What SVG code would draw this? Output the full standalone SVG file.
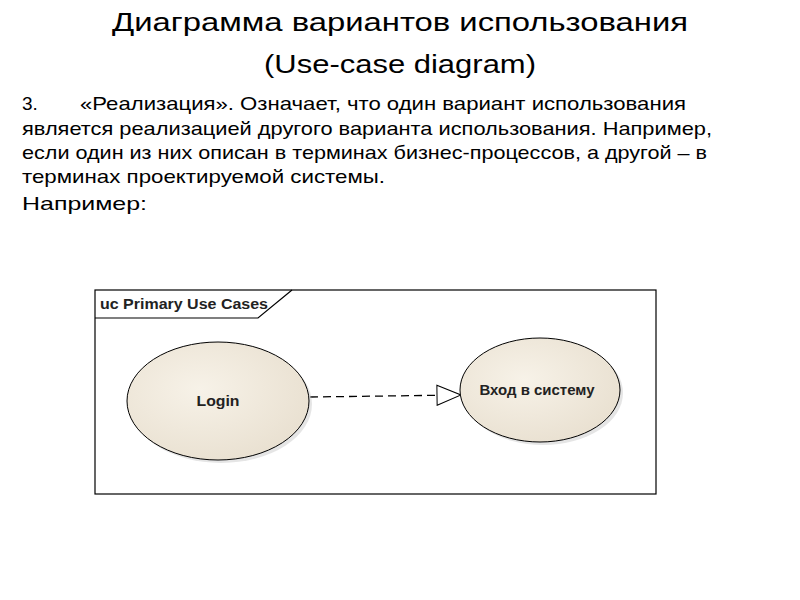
<svg xmlns="http://www.w3.org/2000/svg" width="800" height="600" viewBox="0 0 800 600">
<style>
.t{font-family:"Liberation Sans",Arial,sans-serif;fill:#000}
.ti{font-size:26px;text-anchor:middle}
.b{font-size:19px}
.uc{stroke:#000;stroke-width:1}
.lb{font-size:14px;font-weight:bold;fill:#222}
</style>
<defs>
<radialGradient id="g" cx="0.4" cy="0.4" r="0.7"><stop offset="0" stop-color="#f7f2e8"/><stop offset="1" stop-color="#e8dfcf"/></radialGradient>
<marker id="tri" markerWidth="26" markerHeight="22" refX="25" refY="11" orient="auto" markerUnits="userSpaceOnUse"><path d="M1,1 L25,11 L1,21 Z" fill="#fff" stroke="#000"/></marker>
</defs>
<rect width="800" height="600" fill="#fff"/>
<text class="t ti" x="400" y="31" textLength="576" lengthAdjust="spacingAndGlyphs">Диаграмма вариантов использования</text>
<text class="t ti" x="400" y="73" textLength="272" lengthAdjust="spacingAndGlyphs">(Use-case diagram)</text>
<text class="t b" x="22" y="110">3.</text>
<text class="t b" x="80" y="110" textLength="606" lengthAdjust="spacingAndGlyphs">«Реализация». Означает, что один вариант использования</text>
<text class="t b" x="22" y="135" textLength="690" lengthAdjust="spacingAndGlyphs">является реализацией другого варианта использования. Например,</text>
<text class="t b" x="22" y="159" textLength="685" lengthAdjust="spacingAndGlyphs">если один из них описан в терминах бизнес-процессов, а другой – в</text>
<text class="t b" x="22" y="183" textLength="363" lengthAdjust="spacingAndGlyphs">терминах проектируемой системы.</text>
<text class="t b" x="22" y="210" textLength="125" lengthAdjust="spacingAndGlyphs">Например:</text>
<g id="frame">
<rect x="95" y="290" width="561" height="204" fill="#fff" stroke="#000" stroke-width="1.2"/>
<path d="M95,318 H258 L292,290" fill="none" stroke="#000" stroke-width="1.2"/>
<text class="t lb" x="100" y="309" textLength="168" lengthAdjust="spacingAndGlyphs">uc Primary Use Cases</text>
</g>
<g id="connectors">
<line x1="310" y1="397" x2="461" y2="395" stroke="#000" stroke-width="1.3" stroke-dasharray="8,5" marker-end="url(#tri)"/>
</g>
<g id="login">
<ellipse cx="221" cy="404" rx="91" ry="59" fill="#ccc" opacity="0.5"/>
<ellipse class="uc" cx="218" cy="401" rx="91" ry="59" fill="url(#g)"/>
<text class="t lb" x="218" y="406" text-anchor="middle" textLength="43" lengthAdjust="spacingAndGlyphs">Login</text>
</g>
<g id="vhod">
<ellipse cx="543" cy="393" rx="80" ry="52" fill="#ccc" opacity="0.5"/>
<ellipse class="uc" cx="540" cy="390" rx="80" ry="52" fill="url(#g)"/>
<text class="t lb" x="537" y="395" text-anchor="middle" textLength="115" lengthAdjust="spacingAndGlyphs">Вход в систему</text>
</g>
</svg>
